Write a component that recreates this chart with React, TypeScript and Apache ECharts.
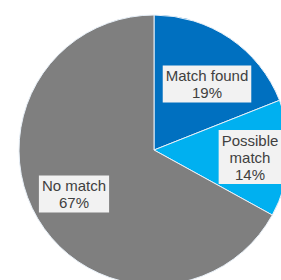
import React, { useEffect, useRef } from "react";
import * as echarts from "echarts";

const categories = ["Match found", "Possible match", "No match"];
const labelLines = ["Match found", "Possible\nmatch", "No match"];
const values = [19, 14, 67];
const colors = ["#0070C0", "#00B0F0", "#7F7F7F"];
const labelPos: [number, number][] = [
  [207, 84],
  [250, 157],
  [74, 194],
];

export default function App() {
  const ref = useRef<HTMLDivElement>(null);
  useEffect(() => {
    if (!ref.current) return;
    const chart = echarts.init(ref.current, null, { renderer: "svg" });
    chart.setOption({
      animation: false,
      backgroundColor: "#ffffff",
      series: [
        {
          type: "pie",
          center: [154, 150],
          radius: 135,
          startAngle: 90,
          clockwise: true,
          silent: true,
          data: categories.map((c, i) => ({
            name: c,
            value: values[i],
            itemStyle: { color: colors[i] },
          })),
          itemStyle: { borderColor: "#e8f0f8", borderWidth: 1 },
          label: {
            show: true,
            position: "inside",
            formatter: (p: any) => `${labelLines[p.dataIndex]}\n${p.value}%`,
            fontFamily: "Liberation Sans, Arial, sans-serif",
            fontSize: 15,
            lineHeight: 17,
            color: "#404040",
            backgroundColor: "#F2F2F2",
            padding: [2, 3, 1, 3],
            align: "center",
            verticalAlign: "middle",
          },
          labelLine: { show: false },
          labelLayout: (params: any) => ({
            x: labelPos[params.dataIndex][0],
            y: labelPos[params.dataIndex][1],
            align: "center",
            verticalAlign: "middle",
          }),
        },
      ],
    });
    return () => chart.dispose();
  }, []);
  return (
    <div
      ref={ref}
      style={{ position: "fixed", left: 0, top: 0, width: 281, height: 280 }}
    />
  );
}
